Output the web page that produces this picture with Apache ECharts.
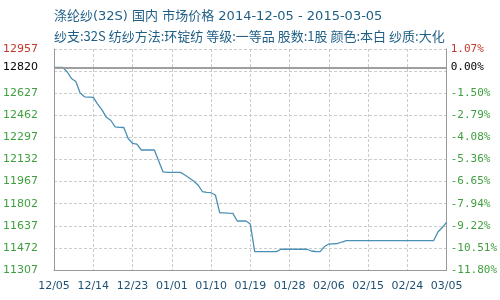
<!DOCTYPE html>
<html><head><meta charset="utf-8">
<script src="https://cdn.jsdelivr.net/npm/echarts@6/dist/echarts.min.js"></script>
<style>html,body{margin:0;padding:0;background:#fff}#c{width:500px;height:300px}</style>
</head><body><div id="c"></div>
<script>
var titleText = '涤纶纱(32S) 国内 市场价格 2014-12-05 - 2015-03-05';
var subText = '纱支:32S 纺纱方法:环锭纺 等级:一等品 股数:1股 颜色:本白 纱质:大化';
var basePrice = 12820;
var yMin = 11307, yMax = 12957, yStep = 165;
var leftTickLabels = ['11307','11472','11637','11802','11967','12132','12297','12462','12627','','12957'];
var rightTickLabels = ['-11.80%','-10.51%','-9.22%','-7.94%','-6.65%','-5.36%','-4.08%','-2.79%','-1.50%','','1.07%'];
var prices = [
 12820,12820,12820,12787,12737,12714,12628,12600,12598,12596,
 12546,12502,12447,12425,12375,12372,12371,12289,12253,12246,
 12203,12203,12203,12203,12121,12039,12036,12036,12036,12036,
 12016,11994,11972,11942,11893,11886,11884,11867,11734,11733,
 11731,11730,11673,11673,11673,11650,11444,11444,11444,11444,
 11444,11444,11462,11462,11462,11462,11462,11462,11462,11449,
 11445,11444,11482,11501,11502,11505,11516,11526,11526,11526,
 11526,11526,11526,11526,11526,11526,11526,11526,11526,11526,
 11526,11526,11526,11526,11526,11526,11526,11526,11591,11624,
 11665
];
var dates = [];
(function(){
  var d = new Date(Date.UTC(2014,11,5));
  for (var i=0;i<prices.length;i++){
    var m = d.getUTCMonth()+1, dd = d.getUTCDate();
    dates.push((m<10?'0':'')+m+'/'+(dd<10?'0':'')+dd);
    d.setUTCDate(d.getUTCDate()+1);
  }
})();
var chart = echarts.init(document.getElementById('c'), null, {renderer:'canvas'});
var ff = 'DejaVu Sans';
var mono = 'DejaVu Sans Mono';
function tickIndex(v){ return Math.round((v - yMin)/yStep); }
chart.setOption({
  animation:false,
  backgroundColor:'#fff',
  title:[
    {text:titleText, left:49, top:5, textStyle:{fontSize:13, fontWeight:'normal', color:'#1f5f86', fontFamily:'DejaVu Sans, Noto Sans CJK SC'}},
    {text:subText, left:49, top:25, textStyle:{fontSize:13, fontWeight:'normal', color:'#1f5f86', fontFamily:'Noto Sans CJK SC'}}
  ],
  grid:{left:50, right:50, top:49, bottom:30, containLabel:false},
  xAxis:{
    type:'category', data:dates, boundaryGap:false,
    axisLine:{show:true, lineStyle:{color:'#999', width:1}},
    axisTick:{show:false},
    axisLabel:{interval:8, color:'#1f5073', fontSize:11, fontFamily:ff, margin:11, showMaxLabel:true},
    splitLine:{show:true, interval:8, lineStyle:{color:'#ccc', type:[3,2]}}
  },
  yAxis:[
    {type:'value', min:yMin, max:yMax, interval:yStep, position:'left',
     axisLine:{show:true, lineStyle:{color:'#999'}}, axisTick:{show:false},
     axisLabel:{fontSize:11, fontFamily:ff, margin:16,
       formatter:function(v){ return leftTickLabels[tickIndex(v)] || ''; },
       color:function(v){ return tickIndex(v)===10 ? '#c0392b' : '#3f9f3f'; }},
     splitLine:{show:true, lineStyle:{color:'#ccc', type:[3,2]}}},
    {type:'value', min:yMin, max:yMax, interval:yStep, position:'right',
     axisLine:{show:true, lineStyle:{color:'#999'}}, axisTick:{show:false},
     axisLabel:{fontSize:11, fontFamily:mono, margin:4,
       formatter:function(v){ return rightTickLabels[tickIndex(v)] || ''; },
       color:function(v){ return tickIndex(v)===10 ? '#c0392b' : '#3f9f3f'; }},
     splitLine:{show:false}}
  ],
  series:[{
    type:'line', data:prices, yAxisIndex:0, symbol:'none', smooth:false,
    lineStyle:{color:'#4a8fb5', width:1.3},
    markLine:{
      silent:true, symbol:['none','none'],
      lineStyle:{color:'#999', type:'solid', width:1.5},
      data:[
        {yAxis:basePrice, label:{show:true, position:'start', formatter:String(basePrice), color:'#000', fontSize:11, fontFamily:ff, distance:16}},
        {yAxis:basePrice, label:{show:true, position:'end', formatter:'0.00%', color:'#000', fontSize:11, fontFamily:mono, distance:4}}
      ]
    }
  }]
});
</script></body></html>
